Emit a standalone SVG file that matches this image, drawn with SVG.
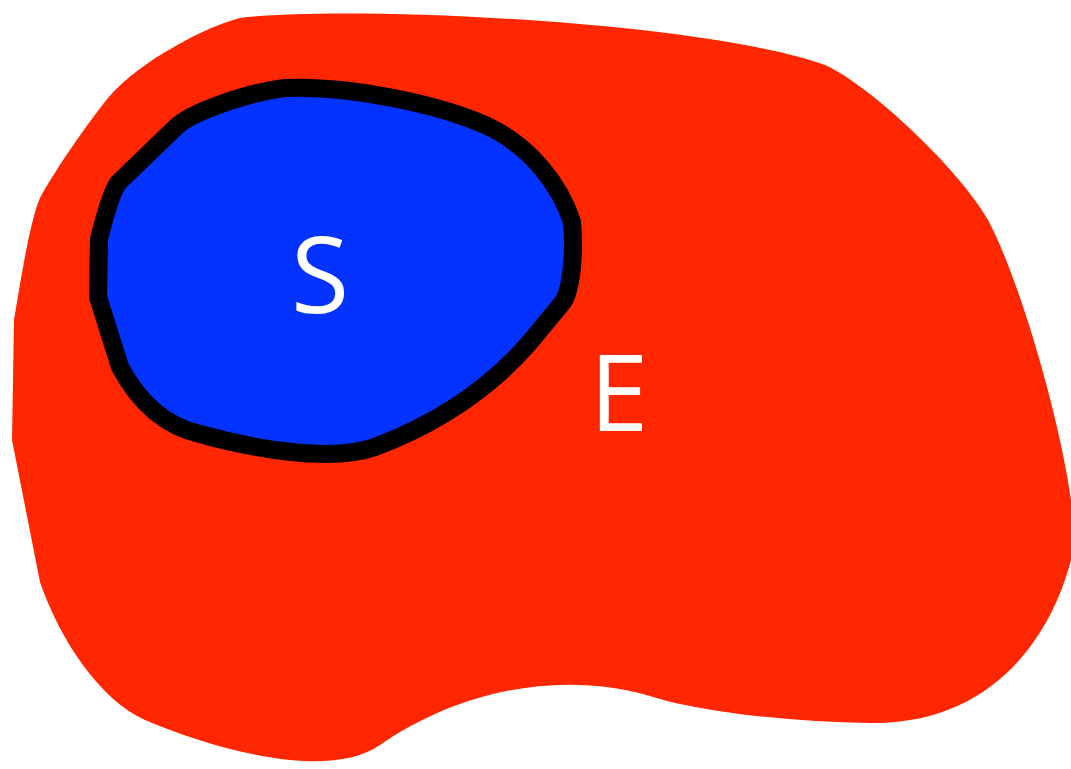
<svg xmlns="http://www.w3.org/2000/svg" width="1071" height="769" viewBox="0 0 1071 769">
<style>
.lbl{font-family:"Open Sans","DejaVu Sans",sans-serif;font-size:106px;fill:#ffffff}
</style>
<rect width="1071" height="769" fill="#ffffff"/>
<g id="E">
<path d="M240,18 C340,5 700,20 825,65 C870,85 960,170 988,220 C1020,280 1060,420 1071,500 L1071,560 C1050,640 990,725 870,723 C790,722 700,712 650,696 C560,670 460,690 380,745 C330,780 220,752 145,720 C100,700 60,640 40,582 L12,440 L14,320 C20,285 30,220 40,198 C55,170 90,120 108,98 C140,60 210,25 240,18 Z" fill="#ff2600"/>
<text class="lbl" x="619" y="431" text-anchor="middle">E</text>
</g>
<g id="S">
<path d="M285,88 C350,85 440,105 485,125 C530,145 560,185 572,222 C575,255 571,290 563,302 L530,342 C480,400 420,430 375,447 C330,463 250,448 200,434 C160,425 135,395 120,367 L98,297 L99,239 C105,215 112,192 118,183 L175,128 C190,112 250,92 285,88 Z" fill="#0433ff" stroke="#000000" stroke-width="18" stroke-linejoin="round"/>
<text class="lbl" x="320" y="313" text-anchor="middle">S</text>
</g>
</svg>
